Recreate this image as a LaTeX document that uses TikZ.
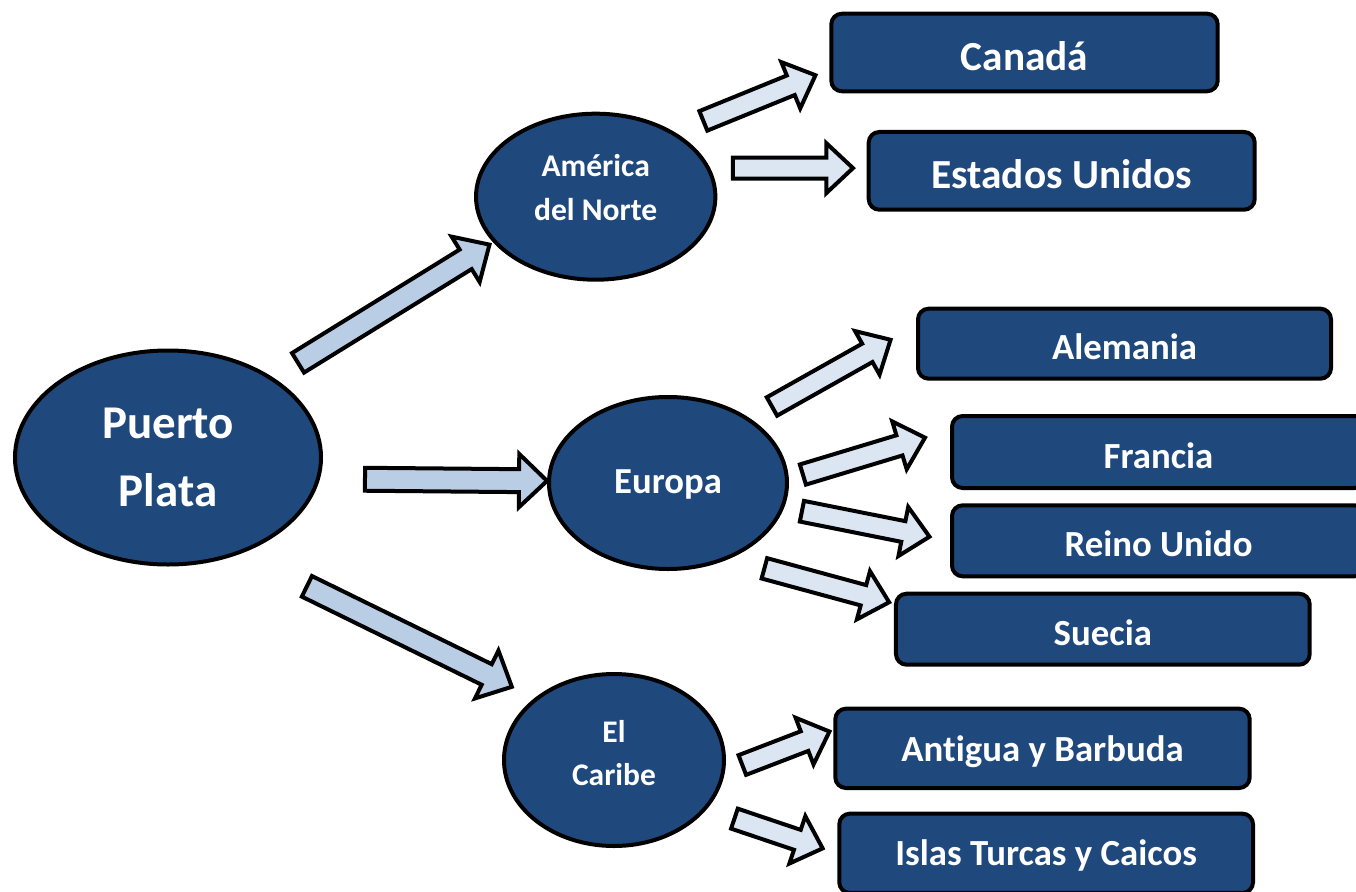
\documentclass[tikz,border=0pt]{standalone}
\usepackage{fontspec}
\setmainfont[Ligatures=NoCommon]{Carlito}
\usetikzlibrary{shapes.geometric,calc}

\definecolor{nodeblue}{HTML}{1F497D}
\definecolor{arrowmid}{HTML}{B9CDE5}
\definecolor{arrowpale}{HTML}{DCE6F2}

\tikzset{every picture/.style={line width=0.75pt}}
\tikzset{
  region/.style={ellipse, draw=black, line width=3pt, fill=nodeblue, text=white, align=center, inner sep=0pt},
  country/.style={rectangle, rounded corners=8pt, draw=black, line width=3pt, fill=nodeblue, text=white, inner sep=0pt, text height=26pt, text depth=2pt, font=\bfseries\fontsize{27.6}{33}\selectfont},
  bigcountry/.style={country, text height=29pt, font=\bfseries\fontsize{31}{37}\selectfont},
  bigarrow/.style={/utils/exec={\def\fashaft{8.6pt}\def\fawing{20pt}\def\fahead{21pt}\def\fafill{arrowmid}}},
  smallarrow/.style={/utils/exec={\def\fashaft{7.9pt}\def\fawing{18.75pt}\def\fahead{20pt}\def\fafill{arrowpale}}},
  fatline/.style={draw=black, fill=\fafill, line width=3pt, line join=miter}
}

% block arrow: style, from, to, gap at from, gap at to
\newcommand{\fatarrow}[5]{%
  \begin{scope}[#1]
    \coordinate (fa-s) at ($(#2)!#4!(#3)$);
    \coordinate (fa-e) at ($(#3)!#5!(#2)$);
    \coordinate (fa-n) at ($(fa-e)!\fahead!(fa-s)$);
    \draw[fatline] ($(fa-s)!\fashaft!90:(fa-e)$) -- ($(fa-n)!\fashaft!90:(fa-e)$) -- ($(fa-n)!\fawing!90:(fa-e)$) -- (fa-e) -- ($(fa-n)!\fawing!-90:(fa-e)$) -- ($(fa-n)!\fashaft!-90:(fa-e)$) -- ($(fa-s)!\fashaft!-90:(fa-e)$) -- cycle;
  \end{scope}}

\begin{document}
\begin{tikzpicture}[x=0.75pt,y=0.75pt,yscale=-1,xscale=1]
    \useasboundingbox (0,0) rectangle (1356,892);

    %Shape: Ellipse, origin
    \node[region, minimum width=229.5pt, minimum height=160.5pt, font=\bfseries\fontsize{35.25}{50.5}\selectfont] (pp) at (168,457.5) {Puerto\\Plata};

    %Shape: Ellipse, regions
    \node[region, minimum width=179.5pt, minimum height=124.5pt, text depth=13.5pt, font=\bfseries\fontsize{23.7}{33.2}\selectfont] (amn) at (595.7,196.7) {América\\del Norte};
    \node[region, minimum width=178.5pt, minimum height=129pt, text depth=1.5pt, font=\bfseries\fontsize{27.5}{33}\selectfont] (eu) at (668,483) {Europa};
    \node[region, minimum width=165pt, minimum height=129pt, text depth=11.25pt, font=\bfseries\fontsize{23.6}{32.3}\selectfont] (car) at (614,760) {El\\Caribe};

    %Shape: Rectangle, countries
    \node[bigcountry, minimum width=289.8pt, minimum height=58.2pt] (can) at (1024.5,52.5) {Canadá};
    \node[bigcountry, minimum width=289.5pt, minimum height=58.3pt] (us) at (1061.7,170.85) {Estados Unidos};
    \node[country, minimum width=309.75pt, minimum height=52.5pt] (ale) at (1124.5,343.7) {Alemania};
    \node[country, minimum width=309.75pt, minimum height=54pt] (fra) at (1158.5,452) {Francia};
    \node[country, minimum width=309.75pt, minimum height=53.25pt] (ru) at (1158.5,540.8) {Reino Unido};
    \node[country, minimum width=310.3pt, minimum height=53.25pt] (sue) at (1102.85,629.2) {Suecia};
    \node[country, minimum width=310.8pt, minimum height=59.5pt, text height=22pt] (ant) at (1042.5,748.35) {Antigua y Barbuda};
    \node[country, minimum width=310.3pt, minimum height=59.5pt, text height=20pt] (isl) at (1046.15,853.3) {Islas Turcas y Caicos};

    %Block Arrows, first level
    \fatarrow{bigarrow}{pp.37}{amn.204}{21.4pt}{3.2pt}
    \fatarrow{bigarrow}{pp.352}{eu.179}{33.75pt}{0pt}
    \fatarrow{bigarrow}{pp.307}{car.142}{55.4pt}{19pt}

    %Block Arrows, second level
    \fatarrow{smallarrow}{amn.39}{can.185}{22.8pt}{11.2pt}
    \fatarrow{smallarrow}{amn.14}{us.west |- amn.14}{17pt}{10.3pt}
    \fatarrow{smallarrow}{eu.38}{ale.175}{18.5pt}{21.9pt}
    \fatarrow{smallarrow}{eu.2}{fra.174}{11pt}{19.6pt}
    \fatarrow{smallarrow}{eu.348}{ru.180}{13.6pt}{15.7pt}
    \fatarrow{smallarrow}{eu.309}{sue.173}{27.2pt}{3.75pt}
    \fatarrow{smallarrow}{car.354}{ant.175}{13.9pt}{3.1pt}
    \fatarrow{smallarrow}{car.332}{isl.180}{21.9pt}{11.6pt}

  \end{tikzpicture}
\end{document}
